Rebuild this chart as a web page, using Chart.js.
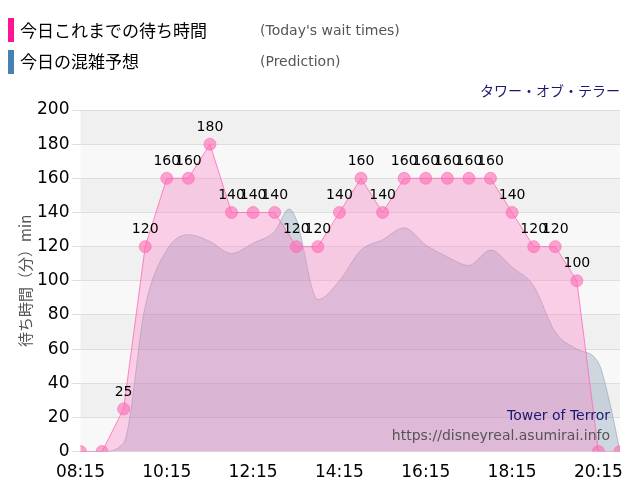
<!DOCTYPE html>
<html><head><meta charset="utf-8">
<script src="https://cdn.jsdelivr.net/npm/chart.js@4"></script>
<style>body{margin:0;background:#fff;font-family:"Noto Sans CJK JP",sans-serif}#w{position:relative;width:640px;height:500px}</style>
</head><body><div id="w"><canvas id="c" width="640" height="500"></canvas></div>
<script>
const timesMin=[495,525,555,585,615,645,675,705,735,765,795,825,855,885,915,945,975,1005,1035,1065,1095,1125,1155,1185,1215,1245];
const todayWait=[0,0,25,120,160,160,180,140,140,140,120,120,140,160,140,160,160,160,160,160,140,120,120,100,0,0];
const predTimes=[495,525,555,585,615,645,675,705,735,765,785,795,825,855,885,915,945,975,1005,1035,1065,1095,1125,1155,1185,1215,1230,1245];
const predWait=[0,0,5,85,118,127,123,116,122,129,142,136,89,100,118,124,131,121,114,109,118,108,97,70,60,52,30,0];
const yTicks=[0,20,40,60,80,100,120,140,160,180,200];
const fmt=m=>String(Math.floor(m/60)).padStart(2,'0')+':'+String(m%60).padStart(2,'0');
const bg={id:'bg',beforeDraw(ch){const {ctx,chartArea:a,scales:{y}}=ch;for(let v=0;v<200;v+=20){ctx.fillStyle=(v/20)%2?'#f0f0f0':'#f8f8f8';const t=y.getPixelForValue(v+20),b=y.getPixelForValue(v);ctx.fillRect(a.left,t,a.right-a.left,b-t);}}};
const deco={id:'deco',afterDraw(ch){const c=ch.ctx,a=ch.chartArea;c.save();
c.fillStyle='#ff1493';c.fillRect(8,18,6,24);c.fillStyle='#4682b4';c.fillRect(8,50,6,24);
c.textBaseline='middle';c.fillStyle='#000';c.font='17px "Noto Sans CJK JP"';c.fillText('今日これまでの待ち時間',20,31);c.fillText('今日の混雑予想',20,62);
c.fillStyle='#555';c.font='14px "DejaVu Sans"';c.fillText("(Today's wait times)",260,31);c.fillText('(Prediction)',260,62);
c.textAlign='right';c.fillStyle='#191970';c.font='14px "Noto Sans CJK JP"';c.fillText('タワー・オブ・テラー',620,91);
c.font='14px "DejaVu Sans"';c.fillText('Tower of Terror',610,416);c.fillStyle='#555';c.fillText('https://disneyreal.asumirai.info',610,436);
c.textAlign='center';c.fillStyle='#000';c.font='14px "DejaVu Sans"';
const m=ch.getDatasetMeta(1);m.data.forEach((p,i)=>{const v=todayWait[i];if(v>0)c.fillText(String(v),p.x,p.y-17);});
c.restore();}};
new Chart(document.getElementById('c'),{type:'line',
data:{datasets:[
{data:predTimes.map((x,i)=>({x,y:predWait[i]})),borderColor:'rgba(150,160,175,0.6)',borderWidth:1,backgroundColor:'rgba(110,140,170,0.3)',fill:'origin',pointRadius:0,cubicInterpolationMode:'monotone',order:2},
{data:timesMin.map((x,i)=>({x,y:todayWait[i]})),borderColor:'rgba(255,105,180,0.8)',borderWidth:1,backgroundColor:'rgba(255,130,200,0.35)',fill:'origin',pointRadius:6,pointBackgroundColor:'rgba(255,105,180,0.6)',pointBorderColor:'rgba(255,105,180,0.6)',tension:0,order:1}]},
options:{responsive:false,animation:false,layout:{padding:{top:110,right:20,left:16,bottom:14}},
plugins:{legend:{display:false},tooltip:{enabled:false}},
scales:{x:{type:'linear',min:495,max:1245,afterBuildTicks(ax){ax.ticks=[495,615,735,855,975,1095,1215].map(v=>({value:v}));},ticks:{callback:v=>fmt(v),color:'#000',font:{size:17,family:'DejaVu Sans'},maxRotation:0},grid:{display:false},border:{display:false}},
y:{min:0,max:200,afterBuildTicks(ax){ax.ticks=yTicks.map(v=>({value:v}));},ticks:{color:'#000',font:{size:17,family:'DejaVu Sans'}},grid:{color:'#ddd',borderDash:[2,2]},border:{display:false},title:{display:true,text:'待ち時間（分）min',color:'#555',font:{size:15,family:'Noto Sans CJK JP'},padding:0}}}},
plugins:[bg,deco]});
</script></body></html>
